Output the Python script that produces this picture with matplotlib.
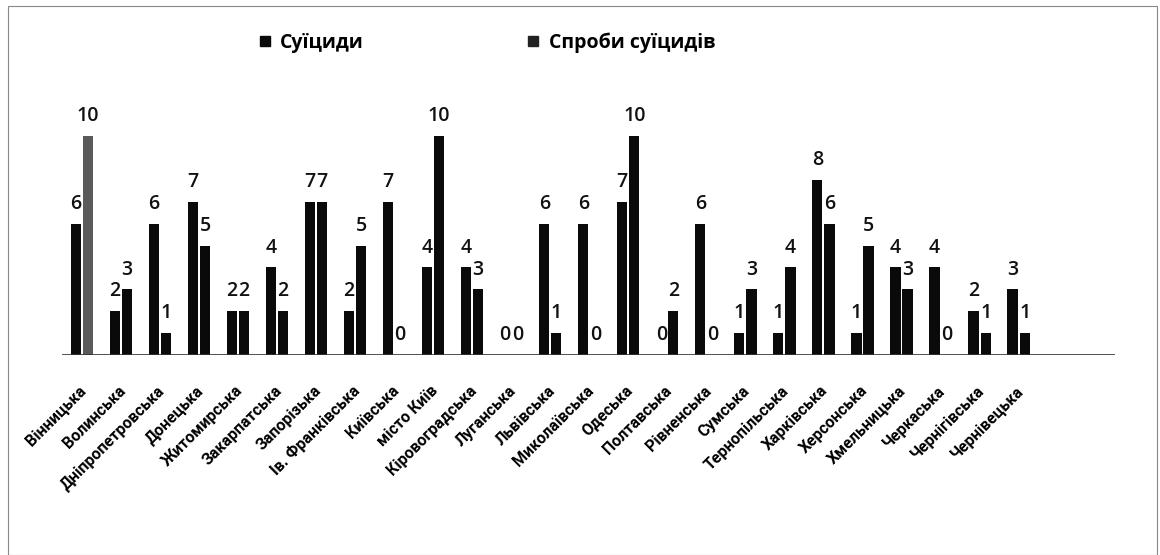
import matplotlib
matplotlib.use("Agg")
import matplotlib.pyplot as plt
import numpy as np
from matplotlib.patches import Rectangle
from matplotlib.lines import Line2D
from matplotlib.transforms import ScaledTranslation

plt.rcParams['font.family'] = ['Open Sans', 'DejaVu Sans']

regions = ["Вінницька", "Волинська", "Дніпропетровська", "Донецька", "Житомирська",
           "Закарпатська", "Запорізька", "Ів. Франківська", "Київська", "місто Київ",
           "Кіровоградська", "Луганська", "Львівська", "Миколаївська", "Одеська",
           "Полтавська", "Рівненська", "Сумська", "Тернопільська", "Харківська",
           "Херсонська", "Хмельницька", "Черкаська", "Чернігівська", "Чернівецька"]
suicides = [6, 2, 6, 7, 2, 4, 7, 2, 7, 4, 4, 0, 6, 6, 7, 0, 6, 1, 1, 8, 1, 4, 4, 2, 3]
attempts = [10, 3, 1, 5, 2, 2, 7, 5, 0, 10, 3, 0, 1, 0, 10, 2, 0, 3, 4, 6, 5, 3, 0, 1, 1]
series_names = ["Суїциди", "Спроби суїцидів"]

W, H = 1160, 555
fig = plt.figure(figsize=(W / 100, H / 100), dpi=100)
fig.patches.append(Rectangle((8 / W, 0), (1157 - 8) / W, 1 - 6 / H, transform=fig.transFigure,
                             fill=False, edgecolor='#888888', linewidth=0.8))

ax = fig.add_axes([62 / W, 1 - 355 / H, (1115 - 62) / W, (355 - 59.4) / H])
x = np.arange(len(regions))
bw = 0.26
off = 0.155
c2 = ['#5a5a5a'] + ['#0a0a0a'] * (len(regions) - 1)
b1 = ax.bar(x - off, suicides, bw, color='#0a0a0a', zorder=2)
b2 = ax.bar(x + off, attempts, bw, color=c2, zorder=2)
ax.bar_label(b1, labels=[str(v) for v in suicides], padding=7, fontsize=14,
             fontweight='semibold', color='#111111')
ax.bar_label(b2, labels=[str(v) for v in attempts], padding=7, fontsize=14,
             fontweight='semibold', color='#111111')

ax.set_xlim(-0.51, 26.47)
ax.set_ylim(0, 13.5)
ax.axhline(0, color='#333333', linewidth=1.2, zorder=3)
for s in ax.spines.values():
    s.set_visible(False)
ax.set_yticks([])
ax.set_xticks(x)
ax.set_xticklabels(regions, rotation=45, ha='right', rotation_mode='anchor',
                   fontsize=11.5, fontweight='bold', family=['Roboto', 'DejaVu Sans'])
ax.tick_params(axis='x', length=0, pad=8)
shift = ScaledTranslation(-3 / 100, -17 / 100, fig.dpi_scale_trans)
for lbl in ax.get_xticklabels():
    lbl.set_transform(lbl.get_transform() + shift)

handles = [Line2D([], [], marker='s', linestyle='none', markersize=7.5, color='#0a0a0a'),
           Line2D([], [], marker='s', linestyle='none', markersize=7.5, color='#222222')]
leg = fig.legend(handles, series_names, loc='center', bbox_to_anchor=(487 / W, 1 - 43 / H),
                 ncol=2, frameon=False, columnspacing=8.4, handlelength=0.6,
                 handletextpad=0.5, prop={'weight': 'bold', 'size': 14})

fig.savefig("out.png", dpi=100)
